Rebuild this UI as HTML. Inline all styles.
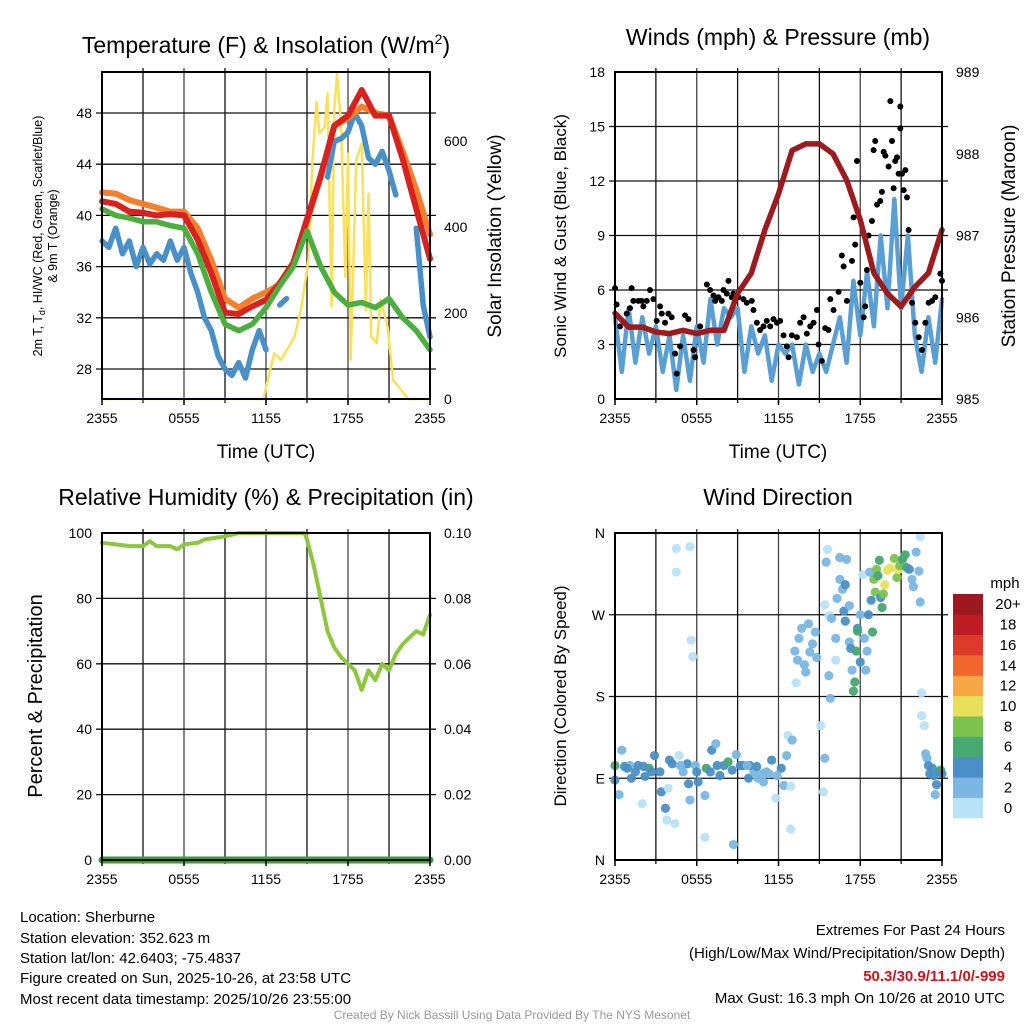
<!DOCTYPE html>
<html><head><meta charset="utf-8">
<style>
html,body{margin:0;padding:0;background:#fff;}
svg{display:block;font-family:"Liberation Sans",sans-serif;}
</style></head>
<body>
<svg id="chart" width="1024" height="1024" viewBox="0 0 1024 1024" xmlns="http://www.w3.org/2000/svg">
<g id="grids"></g>
<g id="series"></g>
<g id="frames"></g>
<g id="labels"></g>
<text x="266" y="53" font-size="23" text-anchor="middle">Temperature (F) &amp; Insolation (W/m<tspan font-size="14" dy="-9">2</tspan><tspan dy="9">)</tspan></text>
<text x="778" y="45" font-size="23" text-anchor="middle">Winds (mph) &amp; Pressure (mb)</text>
<text x="266" y="505" font-size="23" text-anchor="middle">Relative Humidity (%) &amp; Precipitation (in)</text>
<text x="778" y="505" font-size="23" text-anchor="middle">Wind Direction</text>
<text transform="translate(42,236) rotate(-90)" font-size="12.5" text-anchor="middle">2m T, T<tspan font-size="9" dy="3">d</tspan><tspan dy="-3">, HI/WC (Red, Green, Scarlet/Blue)</tspan></text>
<text transform="translate(57,236) rotate(-90)" font-size="12.5" text-anchor="middle">&amp; 9m T (Orange)</text>
<text transform="translate(501,236) rotate(-90)" font-size="19" text-anchor="middle">Solar Insolation (Yellow)</text>
<text x="266" y="458" font-size="19" text-anchor="middle">Time (UTC)</text>
<text x="778" y="458" font-size="19" text-anchor="middle">Time (UTC)</text>
<text transform="translate(566,236) rotate(-90)" font-size="17" text-anchor="middle">Sonic Wind &amp; Gust (Blue, Black)</text>
<text transform="translate(1015,236) rotate(-90)" font-size="19" text-anchor="middle">Station Pressure (Maroon)</text>
<text transform="translate(42,696) rotate(-90)" font-size="20" text-anchor="middle">Percent &amp; Precipitation</text>
<text transform="translate(566,696) rotate(-90)" font-size="17" text-anchor="middle">Direction (Colored By Speed)</text>
<g font-size="15">
<text x="20" y="922">Location: Sherburne</text>
<text x="20" y="943">Station elevation: 352.623 m</text>
<text x="20" y="963">Station lat/lon: 42.6403; -75.4837</text>
<text x="20" y="983">Figure created on Sun, 2025-10-26, at 23:58 UTC</text>
<text x="20" y="1004">Most recent data timestamp: 2025/10/26 23:55:00</text>
</g>
<g font-size="15" text-anchor="end">
<text x="1005" y="935">Extremes For Past 24 Hours</text>
<text x="1005" y="958">(High/Low/Max Wind/Precipitation/Snow Depth)</text>
<text x="1005" y="981" fill="#c8161d" font-weight="bold">50.3/30.9/11.1/0/-999</text>
<text x="1005" y="1003">Max Gust: 16.3 mph On 10/26 at 2010 UTC</text>
</g>
<text x="512" y="1019" font-size="12" fill="#999" text-anchor="middle">Created By Nick Bassill Using Data Provided By The NYS Mesonet</text>
</svg>
<script>
const hourTimes = [0,1,2,3,4,5,6,7,8,9,10,11,12,13,14,15,16,17,18,19,20,21,22,23,24];
const tempRed = [41.1,40.9,40.3,40.2,40.0,40.1,40.0,38.1,35.5,32.4,32.3,32.9,33.4,34.7,36.3,39.7,43.1,47.0,47.8,49.8,47.8,47.8,44.4,40.5,36.6];
const tempOrange = [41.8,41.7,41.2,40.9,40.6,40.3,40.3,39.0,36.5,33.5,32.8,33.5,34.0,34.6,36.2,39.5,43.0,47.0,47.6,48.5,48.0,47.8,45.0,42.0,38.5];
const tempGreen = [40.5,40.0,39.8,39.5,39.5,39.2,39.0,37.0,34.0,31.5,31.0,31.5,32.8,34.5,36.0,38.8,36.0,34.0,33.0,33.2,32.8,33.5,32.0,31.0,29.5];
const halfHourTimes = [0,0.5,1,1.5,2,2.5,3,3.5,4,4.5,5,5.5,6,6.5,7,7.5,8,8.5,9,9.5,10,10.5,11,11.5,12,12.5,13,13.5,14,14.5,15,15.5,16,16.5,17,17.5,18,18.5,19,19.5,20,20.5,21,21.5,22,22.5,23,23.5,24];
const tempBlue = [38,37.5,39,37,38,36,37.5,36.2,37,36.5,38,36.5,37.5,35.5,34,32,31,29,28,27.5,28.5,27.3,29.5,31,29.5,null,33,33.5,null,null,null,null,null,43,45.8,46,46.5,48,47,44.5,44,45,43.5,41.6,null,null,39,33,30.5];
const solarTimes = [0,11.8,12.6,13.1,14.1,14.6,15.1,15.4,15.7,15.9,16.3,16.5,16.8,17.0,17.2,17.5,17.8,18.0,18.2,18.6,19.0,19.3,19.5,19.7,20.1,20.4,20.9,21.3,21.9,22.4,24];
const solarValues = [0,0,106,91,145,215,323,556,691,618,633,711,215,672,757,633,284,571,91,556,594,207,478,145,130,230,168,44,21,0,0];
const tempTicks = [28,32,36,40,44,48];
const solarTicks = [0,200,400,600];
const timeTickLabels = ["2355","0555","1155","1755","2355"];

const windValues = [4.5,1.5,5,2,4.5,2.5,4,1.5,3.5,0.5,3.5,1,4,2,5.5,3,5,4.5,5,1.5,4,2.5,3.5,1,3,2.5,3,0.8,3,1.5,2.5,1.5,3,4.5,2,6.5,3.5,7,4,9,5,11,5,9,3.5,1.5,4.5,2,5.5];
const gustTimes = [0,0.12,0.37,0.86,1.1,1.22,1.35,1.71,1.96,2.08,2.33,2.57,2.82,3.06,3.31,3.43,3.67,3.92,4.16,4.41,4.53,4.78,5.14,5.39,5.76,5.88,6.25,6.74,6.98,7.23,7.35,7.59,7.84,7.96,8.2,8.33,8.57,8.69,9.06,9.43,9.67,10.04,10.16,10.41,10.65,10.9,11.14,11.39,11.63,11.88,12.12,12.37,12.61,12.74,12.98,13.35,13.59,13.84,14.08,14.33,14.57,14.82,14.94,15.18,15.43,15.67,15.8,16.04,16.41,16.65,16.78,17.02,17.39,17.51,17.63,17.76,18.0,18.25,18.37,18.49,18.61,18.86,18.98,19.1,19.23,19.47,19.59,19.72,19.84,20.08,20.21,20.33,20.45,20.57,20.7,20.82,20.94,20.94,21.06,21.19,21.31,21.43,21.55,21.8,22.04,22.29,22.53,22.78,23.02,23.27,23.51,23.88,24.0];
const gustValues = [6.1,5.2,4.0,4.7,5.0,6.1,5.4,5.4,5.4,5.1,5.4,6.0,5.5,4.3,5.1,4.7,4.2,4.7,4.5,2.5,1.4,2.9,4.6,4.4,2.7,2.3,4.0,6.3,6.0,5.7,5.4,5.6,5.4,6.0,5.8,6.5,5.6,5.8,5.6,5.5,5.3,5.4,4.9,4.2,3.8,4.0,4.3,4.0,4.4,4.2,4.3,3.5,2.9,2.3,3.5,3.4,4.2,4.5,3.6,4.0,4.2,4.9,3.0,2.1,3.9,3.8,5.5,4.9,5.9,7.9,7.3,5.4,7.6,10.0,8.5,13.1,6.4,4.5,5.1,7.1,9.0,9.8,13.7,14.2,10.7,10.9,11.4,13.6,13.4,12.8,16.4,14.2,11.6,13.1,13.3,12.4,16.1,14.9,12.4,11.5,12.6,11.1,9.3,5.3,4.2,3.4,2.7,4.2,5.3,5.4,5.6,6.9,6.5];
const pressureValues = [986.05,985.88,985.88,985.82,985.80,985.84,985.80,985.84,985.84,986.29,986.54,987.07,987.51,988.04,988.12,988.12,988.00,987.68,987.19,986.54,986.29,986.13,986.37,986.54,987.07];
const windTicks = [0,3,6,9,12,15,18];
const pressureTicks = [985,986,987,988,989];

const rhTimes = [0,1,2,3,3.5,4,5,5.5,6,7,7.5,9,10,12,14,14.8,15,15.5,16,16.5,17,17.5,18,18.5,19,19.5,20,20.5,21,21.5,22,22.5,23,23.5,24];
const rhValues = [97,96.5,96,96,97.5,96,96,95,96.5,97,98,99,100,100,100,100,98,90,80,70,65,62,60,58,52,58,55,60,58,63,66,68,70,69,75];
const precipTimes = [0,24];
const precipValues = [0,0];
const rhTicks = [0,20,40,60,80,100];
const precipTicks = ["0.00","0.02","0.04","0.06","0.08","0.10"];

const dirHours = [0,0,0.3,0.5,0.7,1.1,1.2,1.7,2.0,2.2,2.5,2.9,3.3,3.4,3.7,3.8,3.9,4.2,4.4,4.5,4.5,4.7,5.0,5.3,5.4,5.5,5.5,5.6,5.7,5.9,6.1,6.6,6.6,6.7,7.1,7.4,7.5,8.0,8.3,8.7,8.9,9.4,9.8,10.2,10.5,10.9,11.5,11.8,12.2,12.4,12.6,12.7,12.9,13.0,12.9,0.9,1.5,2.1,2.7,4.0,4.8,6.0,7.0,7.7,8.6,9.2,9.9,10.4,11.1,11.9,9.7,10.8,11.3,
13.3,13.2,13.4,13.5,13.7,13.9,14.0,14.2,14.3,14.5,14.7,14.8,15.1,15.3,15.4,15.4,15.5,15.6,15.7,15.7,15.8,15.9,16.2,16.2,16.3,16.5,16.5,16.7,16.8,16.9,16.9,17.0,17.2,17.2,17.3,17.4,17.5,17.6,17.7,17.8,17.8,18.0,18.0,18.2,18.3,18.4,18.5,18.6,18.7,18.8,18.9,19.0,19.1,19.2,19.3,19.4,19.5,19.6,19.7,19.8,20.0,20.2,20.5,20.7,20.8,20.9,21.1,21.3,21.4,21.6,21.8,21.9,22.1,22.3,22.4,22.4,22.5,22.5,22.7,22.8,22.9,23.0,23.1,23.3,23.4,23.5,23.6,23.8,23.9,24.0];
const dirDegrees = [104,88,72,121,103,104,90,104,62,92,101,115,97,75,57,44,79,106,40,343,317,115,97,106,84,66,345,242,224,104,86,71,25,101,121,128,104,104,108,17,116,104,90,97,90,86,110,68,101,82,115,137,81,132,34,101,97,103,97,110,104,97,97,93,99,104,104,103,97,93,104,95,95,
195,230,220,244,255,215,207,260,229,238,251,223,148,75,112,281,328,342,269,203,178,266,244,220,288,309,333,298,274,303,263,331,240,280,233,209,186,196,230,255,252,218,270,314,244,209,230,270,317,286,251,309,295,320,313,330,289,278,293,303,319,321,332,311,320,324,331,336,322,320,309,301,339,318,284,356,184,159,148,117,112,104,95,101,93,72,83,97,99,95];
const dirSpeeds = [7,5,3,3,5,3,5,5,1,5,7,5,5,5,5,1,1,5,1,1,1,1,3,5,5,3,1,1,1,3,5,3,1,7,5,3,5,5,7,3,3,5,5,3,3,3,5,1,5,3,3,1,1,3,1,5,5,5,5,5,3,5,5,5,5,5,5,5,3,3,3,3,3,
1,3,3,3,3,3,3,3,3,3,3,3,1,1,3,1,3,1,1,3,3,3,3,1,3,3,3,3,5,5,5,3,3,3,5,3,7,7,7,5,7,5,3,1,3,3,3,5,3,5,7,9,9,9,7,7,5,7,9,11,11,11,9,9,11,9,7,7,7,5,3,3,3,3,3,1,1,1,1,3,3,5,5,5,5,3,5,5,7,5];
const dirTickLabels = ["N","E","S","W","N"];
const speedBinLabels = ["0","2","4","6","8","10","12","14","16","18","20+"];
const speedBinColors = ["#b8e2f6","#7ab7e3","#4a8fc6","#46a872","#7cc24f","#e8e05a","#f7a646","#f0662c","#de3a2b","#bf1d24","#9c1a1f"];

const NS = "http://www.w3.org/2000/svg";
const gGrid = document.getElementById('grids');
const gSeries = document.getElementById('series');
const gFrames = document.getElementById('frames');
const gLabels = document.getElementById('labels');
function mk(tag, parent, attrs){
  const e = document.createElementNS(NS, tag);
  for (const k in attrs) e.setAttribute(k, attrs[k]);
  parent.appendChild(e);
  return e;
}
function linScale(d0,d1,r0,r1){ return v => r0 + (v-d0)*(r1-r0)/(d1-d0); }

const P = {
  tl:{x0:102,x1:430,y0:72,y1:399},
  tr:{x0:615,x1:942,y0:72,y1:399},
  bl:{x0:102,x1:430,y0:533,y1:860},
  br:{x0:615,x1:942,y0:533,y1:860}
};

function drawFrame(p, name){
  const xs = linScale(0,24,p.x0,p.x1);
  for (let h=3; h<24; h+=3){
    const l = mk('line', gGrid, {x1:xs(h),x2:xs(h),y1:p.y0-4,y2:p.y1+4,stroke:(h%6===0?'#444':'#111'),'stroke-width':1.3});
    
    
  }
  const r = mk('rect', gFrames, {x:p.x0,y:p.y0,width:p.x1-p.x0,height:p.y1-p.y0,fill:'none',stroke:'#000','stroke-width':2});
  
  
  timeTickLabels.forEach((lab,i)=>{
    const t = mk('text', gLabels, {x:xs(i*6), y:p.y1+24, 'font-size':14, 'text-anchor':'middle'});
    t.textContent = lab;
    
    
    mk('line', gFrames, {x1:xs(i*6),x2:xs(i*6),y1:p.y1,y2:p.y1+6,stroke:'#000','stroke-width':1.5});
  });
  return xs;
}
function hGrid(p, ys, ticks, name){
  ticks.forEach(v=>{
    const y = ys(v);
    if (y>p.y0+1 && y<p.y1-1){
      const l = mk('line', gGrid, {x1:p.x0-6,x2:p.x1+6,y1:y,y2:y,stroke:'#111','stroke-width':1.3});
      
      
    }
  });
}
function yLabels(ticks, ys, x, anchor, name){
  ticks.forEach(v=>{
    const t = mk('text', gLabels, {x:x, y:ys(typeof v==='string'?parseFloat(v):v)+5, 'font-size':14, 'text-anchor':anchor});
    t.textContent = v;
    
    
  });
}
function pathFrom(times, vals, xs, ys){
  let d = '', pen = false;
  for (let i=0;i<times.length;i++){
    if (vals[i]===null){ pen=false; continue; }
    d += (pen?'L':'M') + xs(times[i]).toFixed(1) + ',' + ys(vals[i]).toFixed(1);
    pen = true;
  }
  return d;
}
function line(times, vals, xs, ys, color, w, name){
  const e = mk('path', gSeries, {d:pathFrom(times,vals,xs,ys), fill:'none', stroke:color, 'stroke-width':w, 'stroke-linejoin':'round','stroke-linecap':'round'});
  
  
  return e;
}

(function(){
  const p = P.tl;
  const xs = drawFrame(p,'temperature');
  const yT = linScale(28,48,369,113);
  const yS = linScale(0,600,399,141);
  hGrid(p, yT, tempTicks, 'temperature');
  yLabels(tempTicks, yT, p.x0-10, 'end', 'temperature-y-tick-label');
  yLabels(solarTicks, yS, p.x1+14, 'start', 'insolation-y-tick-label');
  line(solarTimes, solarValues, xs, yS, '#fbe05c', 2.5, 'solar-insolation-line');
  line(halfHourTimes, tempBlue, xs, yT, '#4a90c8', 5.5, 'heat-index-wind-chill-line');
  line(hourTimes, tempOrange, xs, yT, '#f57f2a', 6, 'nine-meter-temperature-line');
  line(hourTimes, tempRed, xs, yT, '#d7221f', 6, 'two-meter-temperature-line');
  line(hourTimes, tempGreen, xs, yT, '#4cae3e', 5.5, 'dewpoint-line');
})();

(function(){
  const p = P.tr;
  const xs = drawFrame(p,'winds');
  const yW = linScale(0,18,399,72);
  const yP = linScale(985,989,399,72);
  hGrid(p, yW, windTicks, 'winds');
  yLabels(windTicks, yW, p.x0-10, 'end', 'wind-y-tick-label');
  yLabels(pressureTicks, yP, p.x1+14, 'start', 'pressure-y-tick-label');
  line(halfHourTimes, windValues, xs, yW, '#5a9fd4', 4.5, 'sonic-wind-line');
  gustTimes.forEach((t,i)=>{
    const c = mk('circle', gSeries, {cx:xs(t), cy:yW(gustValues[i]), r:3, fill:'#000'});
    
    
  });
  line(hourTimes, pressureValues, xs, yP, '#9b1b1e', 5.5, 'station-pressure-line');
})();

(function(){
  const p = P.bl;
  const xs = drawFrame(p,'humidity');
  const yR = linScale(0,100,860,533);
  const yPr = linScale(0,0.1,860,533);
  hGrid(p, yR, rhTicks, 'humidity');
  yLabels(rhTicks, yR, p.x0-10, 'end', 'humidity-y-tick-label');
  yLabels(precipTicks, yPr, p.x1+14, 'start', 'precipitation-y-tick-label');
  line(rhTimes, rhValues, xs, yR, '#8dc63f', 4, 'relative-humidity-line');
  line(precipTimes, precipValues, xs, yPr, '#3a9d3a', 7, 'precipitation-line');
})();

(function(){
  const p = P.br;
  const xs = drawFrame(p,'direction');
  const yD = linScale(0,360,860,533);
  hGrid(p, yD, [0,90,180,270,360], 'direction');
  dirTickLabels.forEach((lab,i)=>{
    const t = mk('text', gLabels, {x:p.x0-10, y:yD(i*90)+5, 'font-size':14, 'text-anchor':'end'});
    t.textContent = lab;
    
    
  });
  dirHours.forEach((h,i)=>{
    const bin = Math.min(10, Math.floor(dirSpeeds[i]/2));
    const c = mk('circle', gSeries, {cx:xs(h), cy:yD(dirDegrees[i]), r:4.6, fill:speedBinColors[bin], 'fill-opacity':0.95});
    
    
  });
  const cb = mk('g', gLabels, {});
  
  
  const top = 594, bot = 818, n = speedBinColors.length, bh = (bot-top)/n;
  speedBinColors.forEach((c,i)=>{
    const y = bot - (i+1)*bh;
    const r = mk('rect', cb, {x:953, y:y, width:30, height:bh+0.3, fill:c});
    
    
    const t = mk('text', cb, {x:1008, y:y+bh/2+5, 'font-size':15, 'text-anchor':'middle'});
    t.textContent = speedBinLabels[i];
    
    
  });
  const u = mk('text', cb, {x:1005, y:588, 'font-size':15, 'text-anchor':'middle'});
  u.textContent = 'mph';
  
  
})();
</script>
</body></html>
